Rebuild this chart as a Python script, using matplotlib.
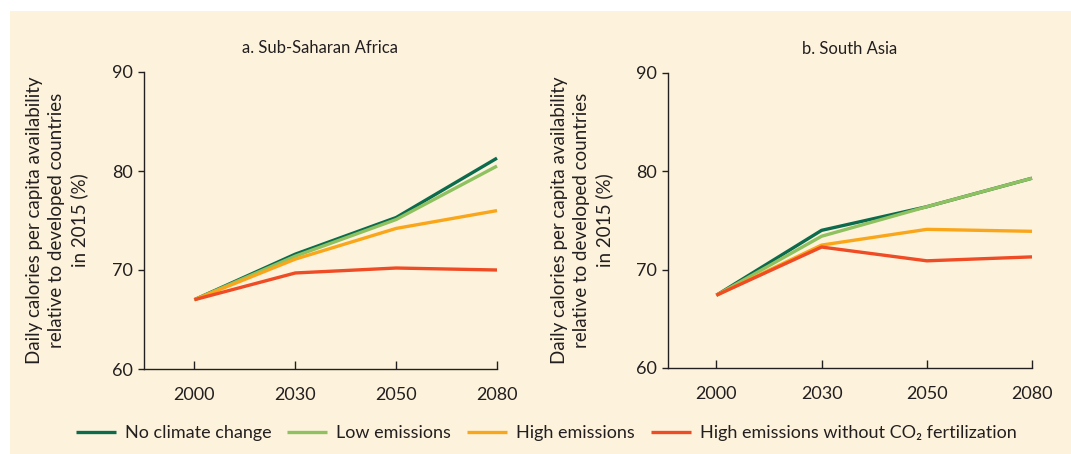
import matplotlib
matplotlib.use("Agg")
import matplotlib.pyplot as plt
from matplotlib.patches import Rectangle

plt.rcParams['font.family'] = ['Lato', 'DejaVu Sans']

years = ['2000', '2030', '2050', '2080']
series_names = ['No climate change', 'Low emissions', 'High emissions',
                'High emissions without CO\u2082 fertilization']
colors = ['#0b6b4c', '#8fc160', '#f9a61b', '#ef4b24']

# Sub-Saharan Africa
ssa_no_cc = [67.0, 71.6, 75.3, 81.3]
ssa_low = [67.0, 71.4, 75.1, 80.5]
ssa_high = [67.0, 71.1, 74.2, 76.0]
ssa_high_no_co2 = [67.0, 69.7, 70.2, 70.0]

# South Asia
sa_no_cc = [67.4, 74.0, 76.4, 79.3]
sa_low = [67.4, 73.4, 76.4, 79.3]
sa_high = [67.4, 72.5, 74.1, 73.9]
sa_high_no_co2 = [67.4, 72.3, 70.9, 71.3]

bg = '#fdf3dc'
W, H = 1071, 454
fig = plt.figure(figsize=(W / 100, H / 100), dpi=100, facecolor='white')
fig.patches.append(Rectangle((10 / W, 0), 1 - 10 / W, 1 - 11 / H,
                             transform=fig.transFigure, facecolor=bg,
                             edgecolor='none', zorder=-10))

ylabel = ('Daily calories per capita availability\n'
          'relative to developed countries\nin 2015 (%)')

panels = [
    ('a. Sub-Saharan Africa', [ssa_no_cc, ssa_low, ssa_high, ssa_high_no_co2],
     [144 / W, 1 - 369 / H, 353 / W, 297 / H], -0.5, -0.158),
    ('b. South Asia', [sa_no_cc, sa_low, sa_high, sa_high_no_co2],
     [668 / W, 1 - 368 / H, 364 / W, 295 / H], -0.46, -0.150),
]

x = list(range(len(years)))
for title, data, rect, xmin, labx in panels:
    ax = fig.add_axes(rect)
    ax.set_facecolor('none')
    for vals, c, name in zip(data, colors, series_names):
        ax.plot(x, vals, color=c, lw=2.4, label=name, clip_on=False,
                solid_capstyle='butt')
    ax.set_xlim(xmin, 3)
    ax.set_ylim(60, 90)
    ax.set_yticks([60, 70, 80, 90])
    ax.set_xticks(x)
    ax.set_xticklabels(years)
    for s in ['top', 'right']:
        ax.spines[s].set_visible(False)
    for s in ['left', 'bottom']:
        ax.spines[s].set_color('#231f20')
        ax.spines[s].set_linewidth(1.0)
    ax.tick_params(axis='y', direction='out', length=4, width=1,
                   color='#231f20', labelsize=13, pad=4, labelcolor='#231f20')
    ax.tick_params(axis='x', direction='in', length=6, width=1,
                   color='#231f20', labelsize=13, pad=13, labelcolor='#231f20')
    ax.set_title(title, fontsize=12, color='#231f20', pad=14)
    ax.set_ylabel(ylabel, fontsize=13.5, color='#231f20', linespacing=1.35)
    ax.yaxis.set_label_coords(labx, 0.5)

handles, labels = ax.get_legend_handles_labels()
fig.legend(handles, labels, loc='center', bbox_to_anchor=(0.51, 0.046),
           ncol=4, frameon=False, fontsize=13, handlelength=2.2,
           handletextpad=0.5, columnspacing=0.9, labelcolor='#231f20')

fig.savefig('out.png', dpi=100, facecolor=fig.get_facecolor())
